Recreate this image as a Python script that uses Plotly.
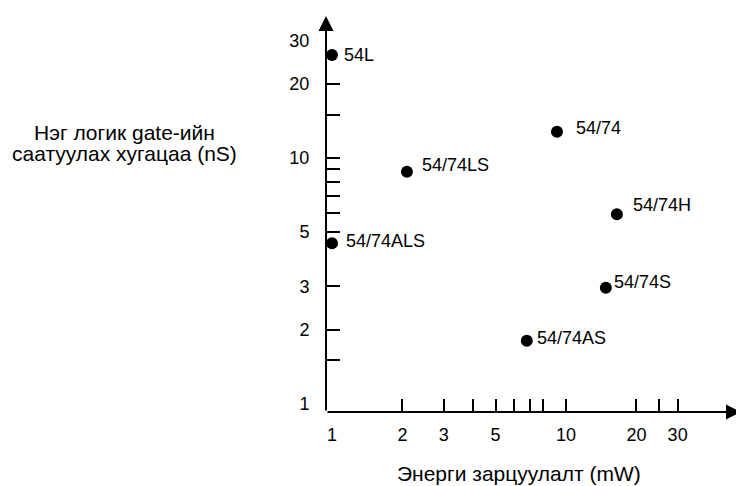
import math
import plotly.graph_objects as go

# ---- data ----
families = ["54L", "54/74", "54/74H", "54/74S", "54/74LS", "54/74AS", "54/74ALS"]
power_mw = [1.0, 9.15, 16.5, 14.8, 2.09, 6.8, 1.0]
delay_ns = [26.3, 12.8, 5.9, 2.96, 8.8, 1.8, 4.5]

x_tick_labels = [1, 2, 3, 5, 10, 20, 30]
x_tick_marks = [2, 3, 4, 5, 6, 7, 8, 10, 20, 25, 30]
y_tick_labels = [1, 2, 3, 5, 10, 20, 30]
y_tick_marks = [1.5, 2, 3, 5, 6, 7, 8, 9, 10, 15, 20]

x_title = "Энерги зарцуулалт (mW)"
y_title_lines = ["Нэг логик gate-ийн", "саатуулах хугацаа (nS)"]

# ---- styles ----
label_shift = {  # (xshift px, yshift px) for each point label
    "54L": (10, 0), "54/74": (17, 4), "54/74H": (14, 9), "54/74S": (6, 6),
    "54/74LS": (13, 7), "54/74AS": (8, 3), "54/74ALS": (12, 2),
}
FONT = "Liberation Sans, Arial, sans-serif"
FS = 18
FS_TITLE = 21

# page body has an 8px margin, so the figure is drawn 8px smaller
W, H = 736, 478
L, R, T, B = 318, 0, 4, 74
pw = W - L - R
ph = H - T - B

fig = go.Figure()
fig.add_trace(go.Scatter(
    x=power_mw, y=delay_ns, mode="markers",
    marker=dict(size=12, color="black"),
    cliponaxis=False, hoverinfo="skip", showlegend=False,
))

for name, xv, yv in zip(families, power_mw, delay_ns):
    dx, dy = label_shift[name]
    fig.add_annotation(x=math.log10(xv), y=math.log10(yv), xref="x", yref="y",
                       text=name, showarrow=False, xanchor="left", yanchor="middle",
                       xshift=dx, yshift=dy,
                       font=dict(family=FONT, size=FS, color="black"))

fig.update_layout(
    width=W, height=H,
    margin=dict(l=L, r=R, t=T, b=B, pad=0),
    paper_bgcolor="white", plot_bgcolor="white",
    font=dict(family=FONT, size=FS, color="black"),
    xaxis=dict(
        type="log", range=[-0.0256, 1.7607],
        showgrid=False, zeroline=False, showline=False,
        tickmode="array", tickvals=x_tick_labels,
        ticktext=[str(v) for v in x_tick_labels],
        ticks="outside", ticklen=0, ticklabelstandoff=6,
        minor=dict(tickmode="array", tickvals=x_tick_marks, ticks="inside",
                   ticklen=13, tickwidth=1.5, tickcolor="black", showgrid=False),
    ),
    yaxis=dict(
        type="log", range=[-0.0346, 1.595],
        showgrid=False, zeroline=False, showline=False,
        tickmode="array", tickvals=y_tick_labels,
        ticktext=[str(v) for v in y_tick_labels],
        ticks="outside", ticklen=0, ticklabelstandoff=12,
        minor=dict(tickmode="array", tickvals=y_tick_marks, ticks="inside",
                   ticklen=14, tickwidth=1.5, tickcolor="black", showgrid=False),
    ),
)

# axis lines with arrowheads
x_tip = 733
y_tip = 8
fig.add_annotation(xref="paper", yref="paper", x=(x_tip - L) / pw, y=0,
                   ax=-(x_tip - L), ay=0, axref="pixel", ayref="pixel",
                   text="", showarrow=True, arrowhead=2, arrowsize=1.5,
                   arrowwidth=2, arrowcolor="black", standoff=0)
fig.add_annotation(xref="paper", yref="paper", x=0, y=(H - B - y_tip) / ph,
                   ax=0, ay=(H - B - y_tip), axref="pixel", ayref="pixel",
                   text="", showarrow=True, arrowhead=2, arrowsize=1.5,
                   arrowwidth=2, arrowcolor="black", standoff=0)

# axis titles
fig.add_annotation(xref="paper", yref="paper", x=(511 - L) / pw, y=(H - B - 465) / ph,
                   text=x_title, showarrow=False, xanchor="center", yanchor="middle",
                   font=dict(family=FONT, size=FS_TITLE))
for line, ypx in zip(y_title_lines, [124, 145]):
    fig.add_annotation(xref="paper", yref="paper", x=(116 - L) / pw, y=(H - B - ypx) / ph,
                       text=line, showarrow=False, xanchor="center", yanchor="middle",
                       font=dict(family=FONT, size=FS_TITLE))

fig.write_html("out.html")
